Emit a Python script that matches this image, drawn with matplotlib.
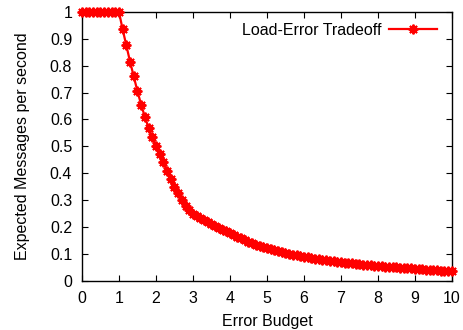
import numpy as np
import matplotlib.pyplot as plt

plt.rcParams['font.family'] = ['Liberation Sans', 'DejaVu Sans']

# error budget, 0.0 .. 10.0 in steps of 0.1
budget = [round(0.1 * i, 1) for i in range(101)]
messages = [
    1.0, 1.0, 1.0, 1.0, 1.0, 1.0, 1.0, 1.0, 1.0, 1.0, 1.0,
    0.935, 0.875, 0.815, 0.76, 0.705, 0.655, 0.61, 0.57, 0.535, 0.50,
    0.47, 0.44, 0.41, 0.38, 0.35, 0.325, 0.30, 0.278, 0.262, 0.25,
    0.241, 0.233, 0.225, 0.217, 0.21, 0.203, 0.196, 0.19, 0.184, 0.178,
    0.171, 0.164, 0.158, 0.151, 0.145, 0.14, 0.135, 0.131, 0.126, 0.122,
    0.118, 0.114, 0.11, 0.106, 0.102, 0.1, 0.097, 0.095, 0.092, 0.09,
    0.087, 0.085, 0.083, 0.08, 0.078, 0.076, 0.075, 0.073, 0.071, 0.07,
    0.068, 0.066, 0.065, 0.063, 0.062, 0.06, 0.059, 0.058, 0.056, 0.055,
    0.054, 0.053, 0.052, 0.051, 0.05, 0.049, 0.048, 0.047, 0.046, 0.045,
    0.044, 0.043, 0.042, 0.041, 0.04, 0.039, 0.038, 0.038, 0.037, 0.036,
]
xticks = list(range(0, 11))
yticks = [0, 0.1, 0.2, 0.3, 0.4, 0.5, 0.6, 0.7, 0.8, 0.9, 1]
ytick_labels = ['0', '0.1', '0.2', '0.3', '0.4', '0.5', '0.6', '0.7', '0.8', '0.9', '1']

fig = plt.figure(figsize=(4.63, 3.3), dpi=100)
ax = fig.add_axes([0.177, 0.149, 0.799, 0.815])

ax.plot(budget, messages, color='red', linewidth=1.6,
        marker=(8, 2, 0), markersize=7, markeredgewidth=1.4,
        label='Load-Error Tradeoff', clip_on=False, zorder=3)

ax.set_xlim(0, 10)
ax.set_ylim(0, 1)
ax.set_xticks(xticks)
ax.set_yticks(yticks)
ax.set_yticklabels(ytick_labels)
ax.tick_params(direction='in', top=True, right=True, length=4,
               width=0.8, labelsize=11.5, pad=7)
for s in ax.spines.values():
    s.set_linewidth(1.0)

ax.set_xlabel('Error Budget', fontsize=11.5, labelpad=6)
ax.set_ylabel('Expected Messages per second', fontsize=11.5, labelpad=14)

ax.legend(loc='upper right', frameon=False, markerfirst=False,
          fontsize=11.5, handlelength=3.0, handletextpad=0.5,
          borderaxespad=0.3, bbox_to_anchor=(0.99, 1.0))

plt.savefig('out.png', dpi=100)
